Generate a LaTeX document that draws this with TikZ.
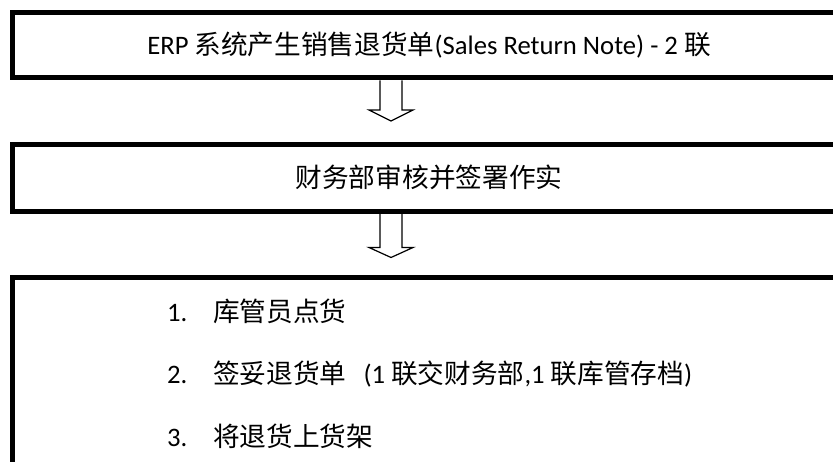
\documentclass[tikz,border=0pt]{standalone}
\usepackage{fontspec}
\setmainfont{Carlito}
\newfontfamily\cjk{Noto Sans CJK SC}
\usetikzlibrary{calc}

\tikzset{
  notebox/.style={draw, line width=5pt, minimum width=834pt, inner sep=0pt,
    text height=20pt, text depth=1pt},
  hollowarrow/.style={line width=1.2pt, line join=miter},
  listitem/.style={anchor=base west, inner sep=0pt}
}

\begin{document}
\begin{tikzpicture}[x=1pt, y=-1pt, font=\fontsize{26.67}{32}\selectfont]
  \useasboundingbox (0,0) rectangle (833,462);
  \clip (0,0) rectangle (833,462);
  % boxes
  \node [notebox, minimum height=65.5pt] at (429,45.25) (erp)
    {ERP {\cjk 系统产生销售退货单}(Sales Return Note) - 2 {\cjk 联}};
  \node [notebox, minimum height=67pt] at (429,178) (review)
    {{\cjk 财务部审核并签署作实}};
  \node [notebox, minimum height=282.5pt] at (429,418.75) (store) {};
  % arrows
  \draw [hollowarrow]
    ($(erp.south)+(-49,0)$)
    -- ++(0,29.5)
    -- ++(-11,0)
    -- ++(22,11)
    -- ++(22,-11)
    -- ++(-11,0)
    -- ++(0,-29.5)
  ;
  \draw [hollowarrow]
    ($(review.south)+(-49,0)$)
    -- ++(0,33.5)
    -- ++(-11,0)
    -- ++(22,10)
    -- ++(22,-10)
    -- ++(-11,0)
    -- ++(0,-33.5)
  ;
  % steps
  \node [listitem] at (167,322) (num1) {1.};
  \node [listitem] at (213,322) (step1) {{\cjk 库管员点货}};
  \node [listitem] at (167,384) (num2) {2.};
  \node [listitem] at (213,384) (step2)
    {{\cjk 签妥退货单}\hspace{17pt}(1 {\cjk 联交财务部},1 {\cjk 联库管存档})};
  \node [listitem] at (167,446) (num3) {3.};
  \node [listitem] at (213,446) (step3) {{\cjk 将退货上货架}};
\end{tikzpicture}
\end{document}
